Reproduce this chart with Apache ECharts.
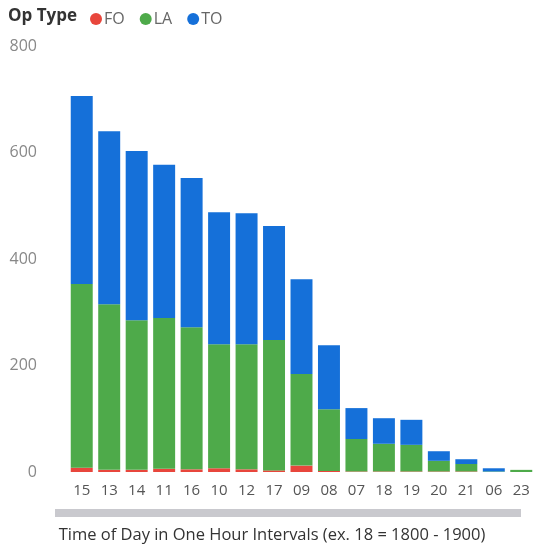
<!DOCTYPE html>
<html>
<head>
<meta charset="utf-8">
<script src="https://cdn.jsdelivr.net/npm/echarts@6/dist/echarts.min.js"></script>
<style>
  html, body { margin: 0; padding: 0; background: #fff; }
  #chart { width: 538px; height: 552px; }
</style>
</head>
<body>
<div id="chart"></div>
<script>
const hours = ["15", "13", "14", "11", "16", "10", "12", "17", "09", "08", "07", "18", "19", "20", "21", "06", "23"];
const foData = [8, 4, 4, 6, 5, 7, 5, 3, 12, 2, 1, 1, 1, 1, 1, 0, 0];
const laData = [345, 311, 281, 283, 267, 233, 235, 245, 172, 116, 61, 52, 50, 20, 14, 1, 4];
const toData = [353, 325, 318, 288, 280, 248, 246, 214, 178, 120, 58, 48, 47, 18, 9, 6, 0];

const myEchart = echarts.init(document.getElementById("chart"));
const font = "'Open Sans', 'Noto Sans', sans-serif";

myEchart.setOption({
  animation: false,
  textStyle: { fontFamily: font },
  title: {
    text: "Op Type",
    left: 3,
    top: 3,
    textStyle: { fontSize: 17, fontWeight: "bold", color: "#333", fontFamily: font }
  },
  legend: {
    left: 85,
    top: 6,
    icon: "circle",
    itemWidth: 12,
    itemHeight: 12,
    itemGap: 15,
    textStyle: { fontSize: 16, color: "#666", padding: [0, 0, 0, -3] },
    data: ["FO", "LA", "TO"]
  },
  grid: { left: 68, right: 3, top: 46, bottom: 80, containLabel: false, outerBoundsMode: "none" },
  xAxis: {
    type: "category",
    data: hours,
    axisLine: { show: false },
    axisTick: { show: false },
    axisLabel: { color: "#555", fontSize: 15, margin: 11 },
    name: "Time of Day in One Hour Intervals (ex. 18 = 1800 - 1900)",
    nameLocation: "middle",
    nameGap: 55,
    nameTextStyle: { color: "#333", fontSize: 16.5, padding: [0, 0, 0, -59] }
  },
  yAxis: {
    type: "value",
    min: 0,
    max: 800,
    interval: 200,
    splitLine: { show: false },
    axisLine: { show: false },
    axisLabel: { color: "#888", fontSize: 16, margin: 31 }
  },
  graphic: [
    {
      type: "rect",
      shape: { x: 55, y: 509, width: 466, height: 8 },
      style: { fill: "#c9c9ce" }
    }
  ],
  series: [
    { name: "FO", type: "bar", stack: "op", data: foData, barWidth: "80%", itemStyle: { color: "#e8463c" } },
    { name: "LA", type: "bar", stack: "op", data: laData, barWidth: "80%", itemStyle: { color: "#4eaa4a" } },
    { name: "TO", type: "bar", stack: "op", data: toData, barWidth: "80%", itemStyle: { color: "#1570d9" } }
  ]
});
</script>
</body>
</html>
